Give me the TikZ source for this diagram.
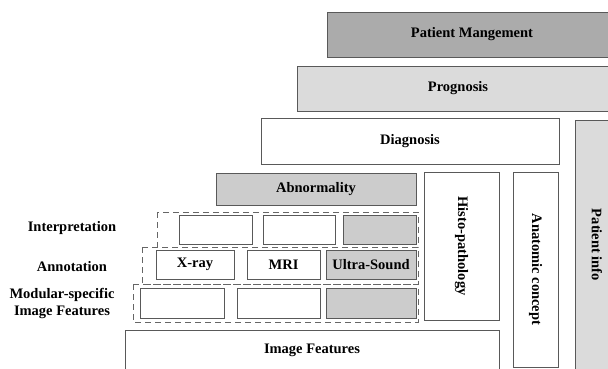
\documentclass[tikz,border=0pt]{standalone}
\usepackage{fontspec}
\setmainfont{Liberation Serif}
\begin{document}
\begin{tikzpicture}[
  x = 1pt,
  y = -1pt,
  box/.style = {
    shape = rectangle,
    draw = black!65,
    line width = 0.8pt,
    inner sep = 0pt,
    outer sep = 0pt,
    font = \bfseries\fontsize{14.5}{17}\selectfont,
  },
  cell/.style = {
    box,
    minimum width = #1,
    minimum height = 29pt,
  },
  group/.style = {
    draw = black!60,
    line width = 1pt,
    dash pattern = on 6pt off 4pt,
  },
  lbl/.style = {
    font = \bfseries\fontsize{14.5}{17}\selectfont,
    align = center,
  },
  dark/.style = {fill = black!33},
  mid/.style = {fill = black!20},
  light/.style = {fill = black!14},
]
  \clip (0, 0) rectangle (608, 368);

  % upper levels
  \node[box, dark, minimum width = 290pt, minimum height = 45pt] (pm) at (472, 34.5) {Patient Mangement};
  \node[box, light, minimum width = 322pt, minimum height = 45pt] (prog) at (458, 88.5) {Prognosis};
  \node[box, minimum width = 298pt, minimum height = 46pt] (diag) at (410, 141) {Diagnosis};
  \node[box, mid, minimum width = 200pt, minimum height = 32pt] (abn) at (316, 189) {Abnormality};

  % side columns
  \node[box, light, minimum width = 44pt, minimum height = 250pt] (pinfo) at (597, 245) {};
  \node[lbl, rotate = -90] (pinfotxt) at (pinfo) {Patient info};
  \node[box, minimum width = 75pt, minimum height = 148pt] (histo) at (461.5, 246) {};
  \node[lbl, rotate = -90] (histotxt) at (histo) {Histo-pathology};
  \node[box, minimum width = 45pt, minimum height = 195pt] (anat) at (535.5, 269.5) {};
  \node[lbl, rotate = -90] (anattxt) at (anat) {Anatomic concept};

  \node[box, minimum width = 374pt, minimum height = 40pt] (imgf) at (312, 350) {Image Features};

  % modality groups
  \draw[group] (157, 212) rectangle (418, 247);
  \draw[group] (142, 247) rectangle (418, 284);
  \draw[group] (133, 284) rectangle (418, 322);

  \node[cell = 73pt] (i1) at (215.5, 229.5) {};
  \node[cell = 72pt] (i2) at (299, 229.5) {};
  \node[cell = 73pt, mid] (i3) at (379.5, 229.5) {};

  \node[cell = 78pt] (a1) at (195, 264.5) {X-ray};
  \node[cell = 73pt] (a2) at (283.5, 264.5) {MRI};
  \node[cell = 90pt, mid] (a3) at (371, 264.5) {Ultra-Sound};

  \node[cell = 84pt, minimum height = 30pt] (m1) at (182, 303) {};
  \node[cell = 83pt, minimum height = 30pt] (m2) at (278.5, 303) {};
  \node[cell = 90pt, minimum height = 30pt, mid] (m3) at (371, 303) {};

  % row labels
  \node[lbl] (interp) at (72, 228) {Interpretation};
  \node[lbl] (annot) at (72, 267) {Annotation};
  \node[lbl] (modular) at (62, 303.5) {Modular-specific\\Image Features};
\end{tikzpicture}
\end{document}
